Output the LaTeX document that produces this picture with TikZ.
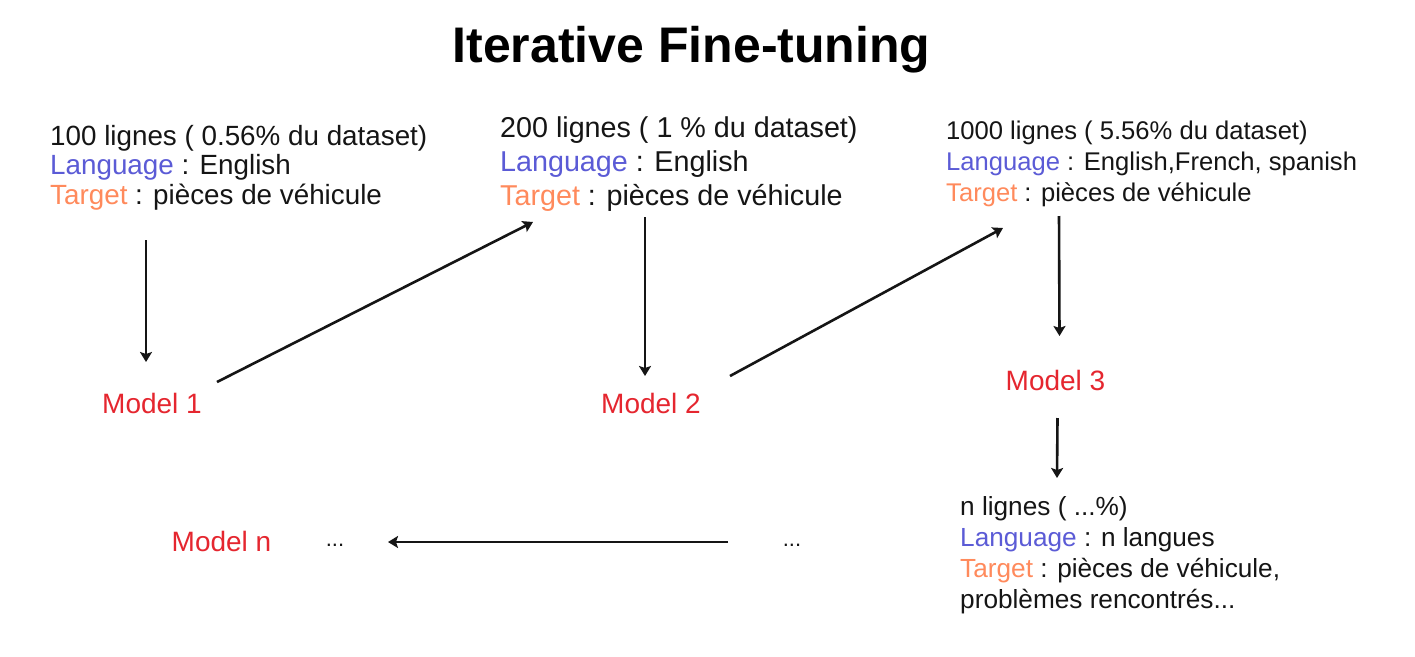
\documentclass[tikz,border=0pt]{standalone}
\usepackage{fontspec}
\setmainfont{Liberation Sans}
\usetikzlibrary{arrows.meta}
\definecolor{lblue}{HTML}{5B5BD6}
\definecolor{lorange}{HTML}{FF8A5C}
\definecolor{mred}{HTML}{E5262F}
\definecolor{ink}{HTML}{151515}
\begin{document}
\begin{tikzpicture}[x=1pt,y=-1pt,
  ln/.style={anchor=base west, inner sep=0pt, text=ink},
  fa/.style={ln, font=\fontsize{27.8}{30}\selectfont},
  fb/.style={ln, font=\fontsize{28.7}{32}\selectfont},
  fc/.style={ln, font=\fontsize{25.6}{30}\selectfont},
  fd/.style={ln, font=\fontsize{26.2}{30}\selectfont},
  model/.style={anchor=base, inner sep=0pt, text=mred, font=\fontsize{28}{30}\selectfont},
  dots/.style={anchor=base, inner sep=0pt, text=ink, font=\fontsize{22}{24}\selectfont},
  arr/.style={-{Stealth[length=10pt,width=12pt,inset=2pt]}, line width=2.6pt, draw=ink}]
\fill[white] (0,0) rectangle (1415,656);
\useasboundingbox (0,0) rectangle (1415,656);

\node[anchor=base, inner sep=0pt, text=black, font=\fontsize{50}{56}\selectfont\bfseries] (title) at (691.5,62) {Iterative Fine-tuning};

% block 1
\node[fa] (b1a) at (50,145) {100 lignes ( 0.56\% du dataset)};
\node[fa] (b1b) at (50,174) {\textcolor{lblue}{Language} : English};
\node[fa] (b1c) at (50,204) {\textcolor{lorange}{Target} : pièces de véhicule};

% block 2
\node[fb] (b2a) at (500,137) {200 lignes ( 1 \% du dataset)};
\node[fb] (b2b) at (500,171) {\textcolor{lblue}{Language} : English};
\node[fb] (b2c) at (500,205) {\textcolor{lorange}{Target} : pièces de véhicule};

% block 3
\node[fc] (b3a) at (946,139) {1000 lignes ( 5.56\% du dataset)};
\node[fc] (b3b) at (946,170) {\textcolor{lblue}{Language} : English,French, spanish};
\node[fc] (b3c) at (946,201) {\textcolor{lorange}{Target} : pièces de véhicule};

% block 4
\node[fd] (b4a) at (960,515) {n lignes ( ...\%)};
\node[fd] (b4b) at (960,546) {\textcolor{lblue}{Language} : n langues};
\node[fd] (b4c) at (960,577) {\textcolor{lorange}{Target} : pièces de véhicule,};
\node[fd] (b4d) at (960,608) {problèmes rencontrés...};

% models
\node[model] (m1) at (152,413) {Model 1};
\node[model] (m2) at (651,413) {Model 2};
\node[model] (m3) at (1055.5,390) {Model 3};
\node[model] (mn) at (221.5,551) {Model n};
\node[dots] (d1) at (335,546) {...};
\node[dots] (d2) at (792,546) {...};

% arrows
\draw[arr] ([shift={(96,36)}]b1c.base west) -- ([shift={(-6,-51)}]m1.base);
\draw[arr] ([shift={(65,-31)}]m1.base) -- ([shift={(33,17)}]b2c.base west);
\draw[arr] ([shift={(145,12)}]b2c.base west) -- ([shift={(-6,-37)}]m2.base);
\draw[arr] ([shift={(79,-37)}]m2.base) -- ([shift={(57,27)}]b3c.base west);
\draw[arr] ([shift={(113,15)}]b3c.base west) -- ([shift={(4,-54)}]m3.base);
\draw[arr] ([shift={(2,28)}]m3.base) -- ([shift={(97,-37)}]b4a.base west);
\draw[arr] ([shift={(-64,-4)}]d2.base) -- ([shift={(53,-4)}]d1.base);
\end{tikzpicture}
\end{document}
